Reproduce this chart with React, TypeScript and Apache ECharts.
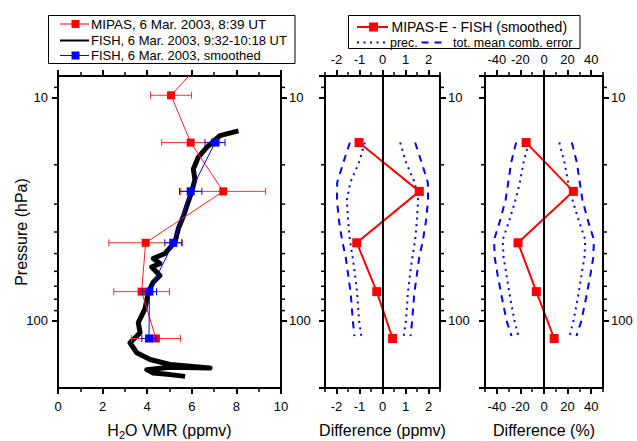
import React, { useEffect, useRef } from "react";
import * as echarts from "echarts";

const FONT = '"Liberation Sans", Arial, Helvetica, sans-serif';
const RED = "#ff0000";
const BLUE = "#0000ff";

// ---------- Left panel: H2O VMR profiles ----------
const mipasPressure = [6.5, 9.76, 15.9, 26.3, 44.7, 74.0, 120];
const mipasVmr = [6.7, 5.07, 5.95, 7.41, 3.93, 3.75, 4.39];
const mipasErr = [0.9, 0.92, 1.3, 1.9, 1.65, 1.25, 1.1];

const smoothPressure = [15.9, 26.3, 44.7, 74.0, 120];
const smoothVmr = [7.04, 5.95, 5.17, 4.1, 4.08];
const smoothErr = [0.45, 0.5, 0.38, 0.32, 0.32];

const fishPressure = [14.1, 14.8, 16.7, 18.5, 20.9, 23.3, 26.3, 30.7, 34.1, 38.5, 44.3, 49.9, 52.6, 55.4, 57.4, 62.6, 67.1, 74.5, 88.5, 101.8, 113, 125.4, 139, 149, 157, 162.6, 161.5, 165.5, 171.4, 174.2, 177.4];
const fishVmr = [8.09, 7.26, 6.67, 6.29, 6.07, 6.14, 6.0, 5.77, 5.62, 5.4, 5.25, 4.8, 4.27, 4.57, 4.2, 4.57, 4.27, 4.05, 3.9, 3.6, 3.68, 3.23, 3.53, 4.13, 5.02, 6.82, 5.02, 3.98, 4.27, 5.02, 5.7];

// ---------- Difference panels ----------
const diffPressure = [15.9, 26.3, 44.7, 74.0, 120];
const diffPpmv = [-1.02, 1.6, -1.12, -0.25, 0.44];
const diffPercent = [-15.1, 24.9, -22.0, -6.5, 8.6];

const errPressure = [15.9, 19.5, 24, 28.6, 35.2, 43.4, 51.8, 61.4, 75.8, 100, 117];
const precPpmv = [0.77, 1.02, 1.4, 1.55, 1.5, 1.42, 1.3, 1.2, 1.1, 1.02, 0.92];
const totalPpmv = [1.42, 1.7, 1.97, 1.98, 1.9, 1.76, 1.6, 1.5, 1.38, 1.29, 1.22];
const precPercent = [13, 17.3, 20.5, 24, 29.2, 35, 34.3, 32, 29.2, 25, 21.7];
const totalPercent = [23.6, 27.8, 30.3, 32.5, 37, 42.3, 41.8, 39.5, 36.3, 31.7, 27.5];

// ---------- Axes ----------
const pressureMin = 8;
const pressureMax = 200;
const pressureMinorTicks = [9, 20, 30, 40, 50, 60, 70, 80, 90];
const vmrRange = [0, 10];
const ppmvRange = [-2.5, 2.5];
const percentRange = [-50, 50];

const zip = (a: number[], b: number[]) => a.map((v, i) => [v, b[i]]);

const labelStyle = { color: "#000", fontSize: 13, fontFamily: FONT };
const lineStyle = { color: "#000", width: 2 };

function xMain(gridIndex: number, position: string, range: number[], showLabels: boolean, showEnds: boolean, extra: any = {}) {
  return {
    type: "value",
    gridIndex,
    position,
    min: range[0],
    max: range[1],
    nameMoveOverlap: false,
    axisLine: { show: true, onZero: false, lineStyle },
    axisTick: { show: true, inside: false, length: 6, lineStyle: { color: "#000", width: 2 } },
    axisLabel: {
      show: showLabels,
      margin: position === "bottom" ? 12 : 10,
      showMinLabel: showEnds,
      showMaxLabel: showEnds,
      ...labelStyle,
    },
    splitLine: { show: false },
    ...extra,
  };
}

function xMinor(gridIndex: number, position: string, range: number[], interval: number) {
  return {
    type: "value",
    gridIndex,
    position,
    min: range[0],
    max: range[1],
    interval,
    axisLine: { show: false, onZero: false },
    axisTick: { show: true, inside: false, length: 4, lineStyle: { color: "#000", width: 1.5 } },
    axisLabel: { show: false },
    splitLine: { show: false },
  };
}

function yAxis(gridIndex: number, position: string, showLabels: boolean, extra: any = {}) {
  return {
    type: "log",
    logBase: 10,
    gridIndex,
    position,
    min: pressureMin,
    max: pressureMax,
    inverse: true,
    nameMoveOverlap: false,
    axisLine: { show: true, onZero: false, lineStyle },
    axisTick: { show: true, inside: false, length: 6, lineStyle: { color: "#000", width: 2 } },
    axisLabel: { show: showLabels, margin: position === "left" ? 10 : 8, showMinLabel: false, showMaxLabel: false, ...labelStyle },
    splitLine: { show: false },
    ...extra,
  };
}

const errorBarRender = (color: string) => (params: any, api: any) => {
  const v = api.value(0);
  const p = api.value(1);
  const e = api.value(2);
  const a = api.coord([v - e, p]);
  const b = api.coord([v + e, p]);
  const cap = 3.5;
  const st = { stroke: color, lineWidth: 1 };
  return {
    type: "group",
    children: [
      { type: "line", shape: { x1: a[0], y1: a[1], x2: b[0], y2: b[1] }, style: st },
      { type: "line", shape: { x1: a[0], y1: a[1] - cap, x2: a[0], y2: a[1] + cap }, style: st },
      { type: "line", shape: { x1: b[0], y1: b[1] - cap, x2: b[0], y2: b[1] + cap }, style: st },
    ],
  };
};

const minorTickRender = (xMin: number, xMax: number) => (params: any, api: any) => {
  const p = api.value(1);
  const l = api.coord([xMin, p]);
  const r = api.coord([xMax, p]);
  const st = { stroke: "#000", lineWidth: 1.5 };
  return {
    type: "group",
    children: [
      { type: "line", shape: { x1: l[0] - 4, y1: l[1], x2: l[0], y2: l[1] }, style: st },
      { type: "line", shape: { x1: r[0], y1: r[1], x2: r[0] + 4, y2: r[1] }, style: st },
    ],
  };
};

function minorTickSeries(axisIndex: number, range: number[]) {
  return {
    type: "custom",
    xAxisIndex: axisIndex,
    yAxisIndex: axisIndex,
    silent: true,
    renderItem: minorTickRender(range[0], range[1]),
    encode: { x: 0, y: 1 },
    data: pressureMinorTicks.map((p) => [range[0], p]),
    z: 5,
  };
}

const DOTTED = [2, 4.5];
const DASHED = [7, 6];

function envelopeSeries(axisIndex: number, values: number[], sign: number, type: any) {
  return {
    type: "line",
    xAxisIndex: axisIndex,
    yAxisIndex: axisIndex,
    data: errPressure.map((p, i) => [sign * values[i], p]),
    symbol: "none",
    lineStyle: { color: BLUE, width: 2, type },
    z: 3,
  };
}

function diffSeries(axisIndex: number, values: number[]) {
  return {
    type: "line",
    xAxisIndex: axisIndex,
    yAxisIndex: axisIndex,
    data: zip(values, diffPressure),
    symbol: "rect",
    symbolSize: 9,
    itemStyle: { color: RED },
    lineStyle: { color: RED, width: 2 },
    z: 4,
    markLine: {
      silent: true,
      symbol: "none",
      label: { show: false },
      lineStyle: { color: "#000", width: 2, type: "solid" },
      data: [{ xAxis: 0 }],
    },
  };
}

function legendGraphics() {
  const txt = (text: string, x: number, y: number, size = 13) => ({
    type: "text",
    style: { text, x, y, fill: "#000", fontSize: size, fontFamily: FONT, verticalAlign: "middle", align: "left" },
  });
  const ln = (x1: number, x2: number, y: number, color: string, width: number, dash?: number[]) => ({
    type: "line",
    shape: { x1, y1: y, x2, y2: y },
    style: { stroke: color, lineWidth: width, lineDash: dash || null },
  });
  const sq = (cx: number, cy: number, s: number, color: string) => ({
    type: "rect",
    shape: { x: cx - s / 2, y: cy - s / 2, width: s, height: s },
    style: { fill: color },
  });
  return [
    { type: "rect", shape: { x: 48.5, y: 15.5, width: 246.5, height: 48 }, style: { fill: "#fff", stroke: "#000", lineWidth: 1 } },
    ln(60, 89, 24, RED, 1),
    sq(75.5, 24, 8, RED),
    txt("MIPAS, 6 Mar. 2003, 8:39 UT", 91, 24, 13.5),
    ln(60, 89, 40.5, "#000", 2),
    txt("FISH, 6 Mar. 2003, 9:32-10:18 UT", 91, 40.5),
    ln(60, 89, 55.5, BLUE, 1),
    sq(75.5, 55.5, 8, BLUE),
    txt("FISH, 6 Mar. 2003, smoothed", 91, 55.5),

    { type: "rect", shape: { x: 348.5, y: 15.5, width: 231.5, height: 33 }, style: { fill: "#fff", stroke: "#000", lineWidth: 1 } },
    ln(357, 388, 27, RED, 2),
    sq(373.5, 27, 9, RED),
    txt("MIPAS-E - FISH (smoothed)", 391.5, 27, 14),
    ln(357, 388, 42.5, BLUE, 2, DOTTED),
    txt("prec.", 390, 42.5, 12.5),
    ln(421.5, 445, 42.5, BLUE, 2, DASHED),
    txt("tot. mean comb. error", 453, 42.5, 12.5),
  ];
}

function buildOption() {
  const titleStyle = { color: "#000", fontSize: 16, fontFamily: FONT };
  const gridCommon = { top: 76, height: 312, containLabel: false, outerBoundsMode: "none" };
  return {
    animation: false,
    backgroundColor: "#fff",
    grid: [
      { ...gridCommon, left: 58, width: 223 },
      { ...gridCommon, left: 325, width: 115 },
      { ...gridCommon, left: 485, width: 118 },
    ],
    xAxis: [
      // 0..2: bottom main axes (index matches grid / series axis index)
      xMain(0, "bottom", vmrRange, true, true, {
        interval: 2,
        minorTick: { show: true, splitNumber: 2, length: 4, lineStyle: { color: "#000", width: 1.5 } },
        name: "{t|H}{s|2}{t|O VMR (ppmv)}",
        nameLocation: "middle",
        nameGap: 33,
        nameTextStyle: {
          ...titleStyle,
          rich: {
            t: { ...titleStyle, lineHeight: 18 },
            s: { color: "#000", fontFamily: FONT, fontSize: 11, lineHeight: 18, padding: [9, 0, 0, 0] },
          },
        },
      }),
      xMain(1, "bottom", ppmvRange, true, false, {
        name: "Difference (ppmv)",
        nameLocation: "middle",
        nameGap: 34,
        nameTextStyle: titleStyle,
      }),
      xMain(2, "bottom", percentRange, true, false, {
        name: "Difference (%)",
        nameLocation: "middle",
        nameGap: 34,
        nameTextStyle: titleStyle,
      }),
      // 3..5: top main axes
      xMain(0, "top", vmrRange, false, false, {
        interval: 2,
        minorTick: { show: true, splitNumber: 2, length: 4, lineStyle: { color: "#000", width: 1.5 } },
      }),
      xMain(1, "top", ppmvRange, true, false),
      xMain(2, "top", percentRange, true, false),
      // 6..9: minor tick axes
      xMinor(1, "bottom", ppmvRange, 0.5),
      xMinor(1, "top", ppmvRange, 0.5),
      xMinor(2, "bottom", percentRange, 10),
      xMinor(2, "top", percentRange, 10),
    ],
    yAxis: [
      yAxis(0, "left", true, {
        name: "Pressure (hPa)",
        nameLocation: "middle",
        nameGap: 29,
        nameRotate: 90,
        nameTextStyle: titleStyle,
      }),
      yAxis(1, "left", false),
      yAxis(2, "left", false),
      yAxis(0, "right", true),
      yAxis(1, "right", true),
      yAxis(2, "right", true),
    ],
    graphic: legendGraphics(),
    series: [
      // left panel
      {
        type: "line",
        xAxisIndex: 0,
        yAxisIndex: 0,
        data: zip(fishVmr, fishPressure),
        symbol: "none",
        lineStyle: { color: "#000", width: 5, join: "round" },
        z: 2,
      },
      {
        type: "custom",
        xAxisIndex: 0,
        yAxisIndex: 0,
        renderItem: errorBarRender("#ff3030"),
        encode: { x: 0, y: 1 },
        data: mipasPressure
          .map((p, i) => [mipasVmr[i], p, mipasErr[i]])
          .filter((d) => d[1] >= pressureMin && d[1] <= pressureMax),
        z: 3,
      },
      {
        type: "line",
        xAxisIndex: 0,
        yAxisIndex: 0,
        data: zip(mipasVmr, mipasPressure),
        symbol: "rect",
        symbolSize: 8,
        itemStyle: { color: RED },
        lineStyle: { color: "#ff2020", width: 1 },
        clip: true,
        z: 3,
      },
      {
        type: "custom",
        xAxisIndex: 0,
        yAxisIndex: 0,
        renderItem: errorBarRender(BLUE),
        encode: { x: 0, y: 1 },
        data: smoothPressure.map((p, i) => [smoothVmr[i], p, smoothErr[i]]),
        z: 4,
      },
      {
        type: "line",
        xAxisIndex: 0,
        yAxisIndex: 0,
        data: zip(smoothVmr, smoothPressure),
        symbol: "rect",
        symbolSize: 8,
        itemStyle: { color: BLUE },
        lineStyle: { color: BLUE, width: 1 },
        z: 4,
      },
      // middle panel
      envelopeSeries(1, precPpmv, 1, DOTTED),
      envelopeSeries(1, precPpmv, -1, DOTTED),
      envelopeSeries(1, totalPpmv, 1, DASHED),
      envelopeSeries(1, totalPpmv, -1, DASHED),
      diffSeries(1, diffPpmv),
      // right panel
      envelopeSeries(2, precPercent, 1, DOTTED),
      envelopeSeries(2, precPercent, -1, DOTTED),
      envelopeSeries(2, totalPercent, 1, DASHED),
      envelopeSeries(2, totalPercent, -1, DASHED),
      diffSeries(2, diffPercent),
      // log minor ticks on the pressure axes
      minorTickSeries(0, vmrRange),
      minorTickSeries(1, ppmvRange),
      minorTickSeries(2, percentRange),
    ],
  };
}

export default function App() {
  const ref = useRef<HTMLDivElement>(null);
  useEffect(() => {
    if (!ref.current) return;
    const chart = echarts.init(ref.current, undefined, { renderer: "svg" });
    chart.setOption(buildOption() as any);
    return () => chart.dispose();
  }, []);
  return (
    <div
      ref={ref}
      style={{ position: "fixed", left: 0, top: 0, width: 637, height: 441, background: "#fff" }}
    />
  );
}
